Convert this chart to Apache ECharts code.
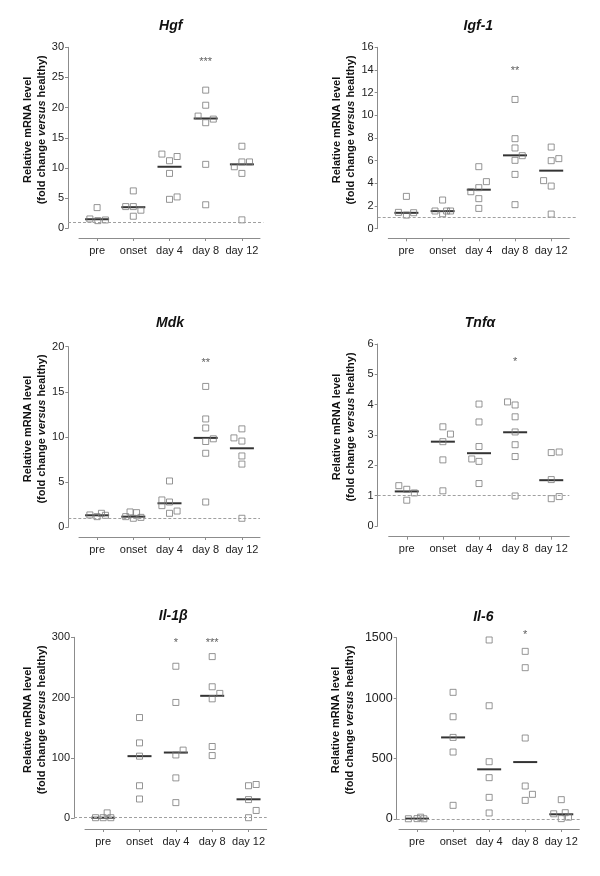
<!DOCTYPE html>
<html>
<head>
<meta charset="utf-8">
<script src="https://cdn.jsdelivr.net/npm/echarts@6/dist/echarts.min.js"></script>
<style>
html,body{margin:0;padding:0;background:#fff;}
#chart{width:600px;height:876px;}
</style>
</head>
<body>
<div id="chart"></div>
<script>
// ---------- data ----------
const categories = ['pre', 'onset', 'day 4', 'day 8', 'day 12'];
const titles = ['Hgf', 'Igf-1', 'Mdk', 'Tnf\u03b1', 'Il-1\u03b2', 'Il-6'];

const hgfTicks = [0, 5, 10, 15, 20, 25, 30];
const hgfValues = [[1.55, 3.43, 1.27, 1.38], [6.2, 3.6, 3.6, 3.0, 2.0], [12.3, 11.2, 11.9, 9.1, 4.8, 5.2], [22.9, 20.4, 18.6, 17.5, 18.1, 10.6, 3.9], [13.6, 11.0, 11.0, 10.2, 9.1, 1.4]];
const hgfJitter = [[-0.2, 0, 0.02, 0.23], [0, -0.21, 0, 0.21, 0], [-0.21, 0, 0.21, 0, 0, 0.21], [0, 0, -0.21, 0, 0.21, 0, 0], [0, 0, 0.21, -0.21, 0, 0]];
const hgfMedians = [1.5, 3.5, 10.2, 18.2, 10.6];
const hgfSig = ['', '', '', '***', ''];
const hgfSigLevel = 27.9;

const igfTicks = [0, 2, 4, 6, 8, 10, 12, 14, 16];
const igfValues = [[1.44, 2.85, 1.2, 1.41], [1.56, 2.53, 1.32, 1.56, 1.56], [5.47, 3.62, 4.15, 3.26, 2.65, 1.79], [11.4, 7.94, 7.12, 6.03, 6.44, 4.79, 2.12], [7.2, 6.0, 6.18, 4.24, 3.76, 1.29]];
const igfJitter = [[-0.22, 0, 0, 0.2], [-0.21, 0, 0, 0.11, 0.22], [0, 0, 0.21, -0.22, 0, 0], [0, 0, 0, 0, 0.2, 0, 0], [0, 0, 0.21, -0.21, 0, 0]];
const igfMedians = [1.4, 1.55, 3.44, 6.47, 5.12];
const igfSig = ['', '', '', '**', ''];
const igfSigLevel = 14.1;

const mdkTicks = [0, 5, 10, 15, 20];
const mdkValues = [[1.37, 1.18, 1.55, 1.33], [1.18, 1.7, 1.0, 1.62, 1.1], [5.13, 3.03, 2.8, 2.4, 1.8, 1.55], [15.6, 12.0, 11.0, 9.5, 9.8, 8.2, 2.8], [9.9, 10.9, 9.55, 7.9, 7.0, 1.0]];
const mdkJitter = [[-0.2, 0, 0.12, 0.23], [-0.21, -0.09, 0, 0.09, 0.21], [0, -0.21, 0, -0.21, 0.21, 0], [0, 0, 0, 0, 0.21, 0, 0], [-0.22, 0, 0, 0, 0, 0]];
const mdkMedians = [1.33, 1.18, 2.66, 9.9, 8.75];
const mdkSig = ['', '', '', '**', ''];
const mdkSigLevel = 18.45;

const tnfTicks = [0, 1, 2, 3, 4, 5, 6];
const tnfValues = [[1.33, 1.21, 1.09, 0.85], [3.27, 3.03, 2.78, 2.18, 1.16], [4.02, 3.43, 2.62, 2.21, 2.13, 1.4], [4.09, 3.99, 3.6, 3.1, 2.68, 2.29, 0.99], [2.42, 2.44, 1.53, 0.9, 0.97]];
const tnfJitter = [[-0.22, 0, 0.21, 0], [0, 0.21, 0, 0, 0], [0, 0, 0, -0.2, 0, 0], [-0.21, 0, 0, 0, 0, 0, 0], [0, 0.22, 0, 0, 0.22]];
const tnfMedians = [1.14, 2.78, 2.4, 3.09, 1.51];
const tnfSig = ['', '', '', '*', ''];
const tnfSigLevel = 5.49;

const il1Ticks = [0, 100, 200, 300];
const il1Values = [[1, 1, 9, 1], [167, 125, 103, 54, 32], [252, 192, 105, 113, 67, 26], [268, 218, 198, 207, 119, 104], [54, 56, 31, 13, 1]];
const il1Jitter = [[-0.21, 0, 0.11, 0.21], [0, 0, 0, 0, 0], [0, 0, 0, 0.2, 0, 0], [0, 0, 0, 0.21, 0, 0], [0, 0.21, 0, 0.21, 0]];
const il1Medians = [1, 103, 109, 203, 31.5];
const il1Sig = ['', '', '*', '***', ''];
const il1SigLevel = 294;

const il6Ticks = [0, 500, 1000, 1500];
const il6Values = [[2, 3, 15, 2], [1048, 846, 675, 554, 113], [1481, 937, 474, 342, 179, 50], [1387, 1252, 670, 273, 204, 154], [160, 43, 52, 3, 15]];
const il6Jitter = [[-0.24, 0, 0.1, 0.19], [0, 0, 0, 0, 0], [0, 0, 0, 0, 0, 0], [0, 0, 0, 0, 0.2, 0], [0, -0.21, 0.11, 0, 0.2]];
const il6Medians = [3, 675, 411, 471, 39];
const il6Sig = ['', '', '', '*', ''];
const il6SigLevel = 1541;

const healthyLevel = 1;

// ---------- layout (pixels) ----------
const layouts = [
  {yx: 68,    top: 47.3,  y0: 228.3, xs: 79,    xe: 260,   xa: 238,   de: 263.3, tx: 170.7, ty: 25.7,  nx: 34.5, ny: 129.8, tf: 11},
  {yx: 377.7, top: 47.3,  y0: 228.7, xs: 388.3, xe: 569.3, xa: 238.3, de: 577.7, tx: 478.3, ty: 25.7,  nx: 344,  ny: 130,   tf: 11},
  {yx: 68.3,  top: 346.7, y0: 527.3, xs: 79,    xe: 260,   xa: 537,   de: 260,   tx: 170,   ty: 323.3, nx: 34.5, ny: 429,   tf: 11},
  {yx: 377.7, top: 344,   y0: 526,   xs: 388.7, xe: 569.3, xa: 536.7, de: 569.3, tx: 480,   ty: 323.3, nx: 344,  ny: 427,   tf: 11},
  {yx: 74,    top: 637.3, y0: 818.3, xs: 85,    xe: 266.7, xa: 829,   de: 266.7, tx: 173.3, ty: 616,   nx: 34.5, ny: 719.8, tf: 11},
  {yx: 396.7, top: 637.7, y0: 819,   xs: 399,   xe: 579.3, xa: 829,   de: 580,   tx: 483.3, ty: 616.7, nx: 343,  ny: 720,   tf: 12.5}
];

const panels = [
  {ticks: hgfTicks, values: hgfValues, jitter: hgfJitter, medians: hgfMedians, sig: hgfSig, sigLevel: hgfSigLevel},
  {ticks: igfTicks, values: igfValues, jitter: igfJitter, medians: igfMedians, sig: igfSig, sigLevel: igfSigLevel},
  {ticks: mdkTicks, values: mdkValues, jitter: mdkJitter, medians: mdkMedians, sig: mdkSig, sigLevel: mdkSigLevel},
  {ticks: tnfTicks, values: tnfValues, jitter: tnfJitter, medians: tnfMedians, sig: tnfSig, sigLevel: tnfSigLevel},
  {ticks: il1Ticks, values: il1Values, jitter: il1Jitter, medians: il1Medians, sig: il1Sig, sigLevel: il1SigLevel},
  {ticks: il6Ticks, values: il6Values, jitter: il6Jitter, medians: il6Medians, sig: il6Sig, sigLevel: il6SigLevel}
];

const FONT = '"Liberation Sans", Arial, Helvetica, sans-serif';
const AXIS_COLOR = '#8c8c8c';
const grids = [], xAxes = [], yAxes = [], series = [], graphics = [];

panels.forEach((p, k) => {
  const L = layouts[k];
  const cw = (L.xe - L.xs) / categories.length;
  const vmin = (L.yx - L.xs - 0.5 * cw) / cw;
  const vmax = (L.de - L.xs - 0.5 * cw) / cw;
  const ymin = p.ticks[0], ymax = p.ticks[p.ticks.length - 1], yint = p.ticks[1] - p.ticks[0];
  const gA = grids.length;
  grids.push({left: L.yx, top: L.top, width: L.de - L.yx, height: L.y0 - L.top});
  grids.push({left: L.xs, top: L.top, width: L.xe - L.xs, height: L.y0 - L.top});

  xAxes.push({type: 'value', gridIndex: gA, min: vmin, max: vmax, show: false});
  yAxes.push({
    type: 'value', gridIndex: gA, min: ymin, max: ymax, interval: yint,
    axisLine: {show: true, onZero: false, lineStyle: {color: AXIS_COLOR, width: 1}},
    axisTick: {show: true, length: 3, lineStyle: {color: AXIS_COLOR}},
    axisLabel: {margin: 4, fontSize: L.tf, color: '#222', fontFamily: FONT, formatter: v => String(v)},
    splitLine: {show: false}
  });
  xAxes.push({
    type: 'category', gridIndex: gA + 1, data: categories, offset: L.xa - L.y0,
    axisLine: {show: true, onZero: false, lineStyle: {color: AXIS_COLOR, width: 1}},
    axisTick: {show: true, alignWithLabel: true, length: 3, lineStyle: {color: AXIS_COLOR}},
    axisLabel: {margin: 7, fontSize: 11, color: '#222', fontFamily: FONT, interval: 0},
    splitLine: {show: false}
  });
  yAxes.push({type: 'value', gridIndex: gA + 1, min: ymin, max: ymax, show: false});

  // medians
  series.push({
    type: 'scatter', xAxisIndex: gA, yAxisIndex: gA, symbol: 'rect', symbolSize: [24, 2],
    itemStyle: {color: '#000'}, z: 2, silent: true, clip: false,
    data: p.medians.map((m, i) => [i, m])
  });
  // points
  const pts = [];
  p.values.forEach((arr, i) => arr.forEach((v, j) => pts.push([i + p.jitter[i][j], v])));
  series.push({
    type: 'scatter', xAxisIndex: gA, yAxisIndex: gA, symbol: 'rect', symbolSize: 6,
    itemStyle: {color: 'rgba(255,255,255,0)', borderColor: '#7a7a7a', borderWidth: 1},
    z: 3, silent: true, clip: false, data: pts,
    markLine: {
      silent: true, symbol: ['none', 'none'], animation: false,
      label: {show: false},
      lineStyle: {type: [3, 2], color: '#a0a0a0', width: 1},
      data: [{yAxis: healthyLevel}]
    }
  });
  // significance
  const sigData = [];
  p.sig.forEach((s, i) => { if (s) sigData.push({name: s, value: [i, p.sigLevel]}); });
  series.push({
    type: 'scatter', xAxisIndex: gA, yAxisIndex: gA, symbolSize: 1, clip: false, silent: true,
    itemStyle: {color: 'rgba(0,0,0,0)'},
    label: {show: true, position: 'inside', formatter: d => d.name, fontSize: 11, color: '#333', fontFamily: FONT, offset: [0, 2]},
    data: sigData
  });

  graphics.push({
    type: 'text', x: L.tx, y: L.ty, silent: true,
    style: {text: titles[k], font: 'italic bold 14px ' + FONT, fill: '#111', align: 'center', verticalAlign: 'middle'}
  });
  graphics.push({
    type: 'text', x: L.nx, y: L.ny, rotation: Math.PI / 2, silent: true,
    style: {
      text: '{a|Relative mRNA level}\n{a|(fold change }{b|versus}{a| healthy)}',
      align: 'center', verticalAlign: 'middle', fill: '#111',
      rich: {
        a: {fontFamily: FONT, fontWeight: 'bold', fontSize: 11, lineHeight: 14, fill: '#111'},
        b: {fontFamily: FONT, fontWeight: 'bold', fontStyle: 'italic', fontSize: 11, lineHeight: 14, fill: '#111'}
      }
    }
  });
});

const chart = echarts.init(document.getElementById('chart'), null, {renderer: 'canvas'});
chart.setOption({
  backgroundColor: '#fff',
  animation: false,
  textStyle: {fontFamily: FONT},
  grid: grids, xAxis: xAxes, yAxis: yAxes, series: series, graphic: graphics
});
</script>
</body>
</html>
